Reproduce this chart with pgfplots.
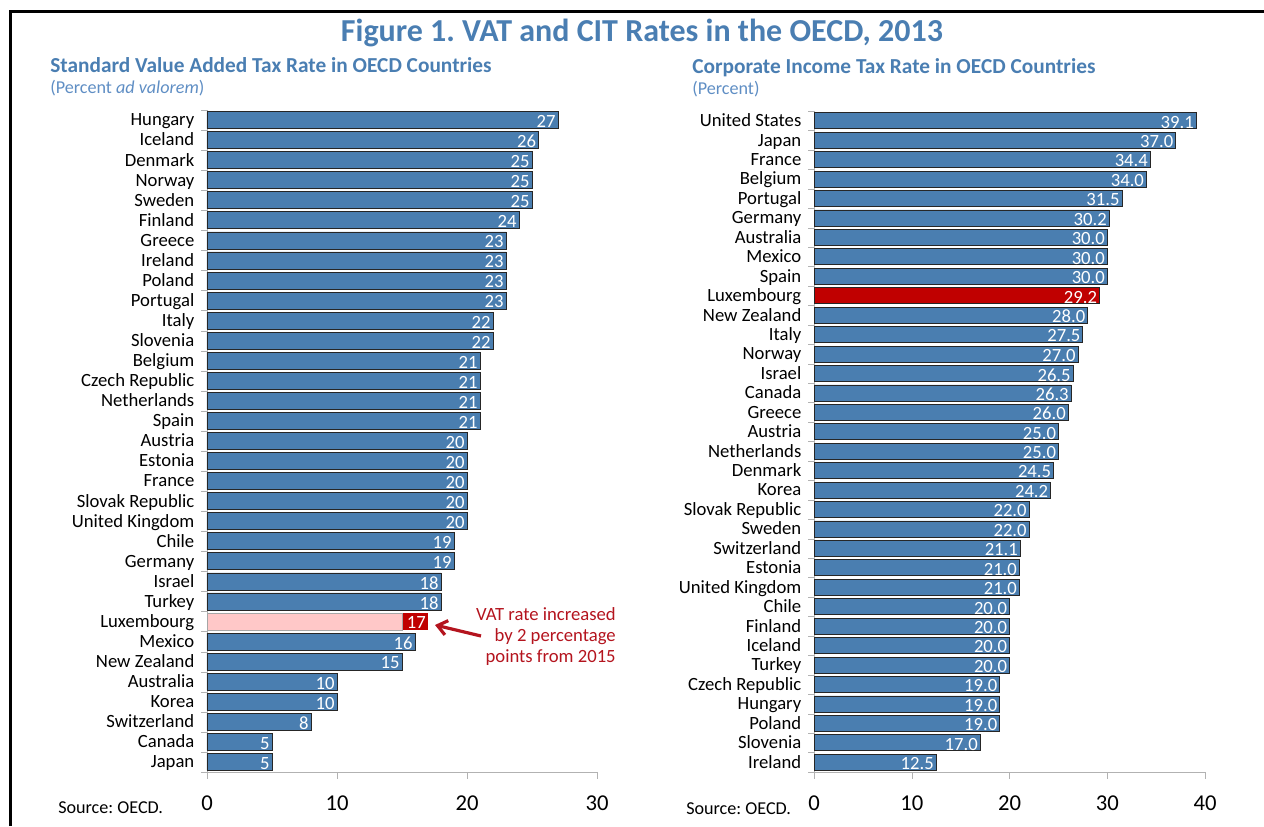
\documentclass[border=0pt]{standalone}
\usepackage{fontspec}
\setmainfont{Carlito}
\usepackage{pgfplots}
\usepackage{pgfplotstable}
\pgfplotsset{compat=1.18}
\usetikzlibrary{arrows.meta}
\definecolor{barblue}{RGB}{74,126,176}
\definecolor{titleblue}{RGB}{74,126,178}
\definecolor{subblue}{RGB}{95,142,196}
\definecolor{lxred}{RGB}{192,0,0}
\definecolor{lxpink}{RGB}{255,200,200}
\definecolor{annred}{RGB}{180,20,30}
\frenchspacing

\pgfplotstableread{
x y lab
27 0 27
25.5 1 26
25 2 25
25 3 25
25 4 25
24 5 24
23 6 23
23 7 23
23 8 23
23 9 23
22 10 22
22 11 22
21 12 21
21 13 21
21 14 21
21 15 21
20 16 20
20 17 20
20 18 20
20 19 20
20 20 20
19 21 19
19 22 19
18 23 18
18 24 18
16 26 16
15 27 15
10 28 10
10 29 10
8 30 8
5 31 5
5 32 5
}\vatdata

\pgfplotstableread{
x y lab
39.1 0 39.1
37.0 1 37.0
34.4 2 34.4
34.0 3 34.0
31.5 4 31.5
30.2 5 30.2
30.0 6 30.0
30.0 7 30.0
30.0 8 30.0
28.0 10 28.0
27.5 11 27.5
27.0 12 27.0
26.5 13 26.5
26.3 14 26.3
26.0 15 26.0
25.0 16 25.0
25.0 17 25.0
24.5 18 24.5
24.2 19 24.2
22.0 20 22.0
22.0 21 22.0
21.1 22 21.1
21.0 23 21.0
21.0 24 21.0
20.0 25 20.0
20.0 26 20.0
20.0 27 20.0
20.0 28 20.0
19.0 29 19.0
19.0 30 19.0
19.0 31 19.0
17.0 32 17.0
12.5 33 12.5
}\citdata

\pgfplotsset{
  hbar/.style={
    scale only axis,
    y dir=reverse,
    axis x line*=bottom,
    axis y line*=left,
    axis line style={draw=gray!60,-},
    tick align=outside,
    major tick length=5pt,
    minor tick length=4.5pt,
    every major y tick/.append style={draw=none},
    every minor y tick/.append style={draw=gray!60},
    every major x tick/.append style={draw=gray!60},
    /pgf/number format/assume math mode=true,
    xticklabel style={font=\fontsize{17}{17}\selectfont, yshift=-9.5pt},
    yticklabel style={font=\fontsize{14}{14}\selectfont, xshift=-1pt,
      text height=11.6pt, text depth=2.8pt},
    clip=false,
  },
  barlab/.style={
    nodes near coords,
    point meta=explicit symbolic,
    every node near coord/.style={anchor=east, text=white, inner sep=1.5pt,
      font=\fontsize{14}{14}\selectfont, yshift=-1pt},
  },
}

\begin{document}
\begin{tikzpicture}
\begin{scope}[x=0.75pt,y=0.75pt]
\path[use as bounding box] (0,0) rectangle (1264,826);
\draw[line width=2.25pt] (10,0) -- (10,814) -- (1264,814);

\node[anchor=base, text=titleblue, font=\fontsize{24}{24}\selectfont\bfseries] at (642,784) {Figure 1. VAT and CIT Rates in the OECD, 2013};

\node[anchor=base west, inner sep=0pt, text=titleblue, font=\fontsize{16}{16}\selectfont\bfseries] at (50,753) {Standard Value Added Tax Rate in OECD Countries};
\node[anchor=base west, inner sep=0pt, text=subblue, font=\fontsize{13.6}{13.6}\selectfont] at (50,732) {(Percent \textit{ad valorem})};
\node[anchor=base west, inner sep=0pt, text=titleblue, font=\fontsize{16}{16}\selectfont\bfseries] at (692,752) {Corporate Income Tax Rate in OECD Countries};
\node[anchor=base west, inner sep=0pt, text=subblue, font=\fontsize{13.6}{13.6}\selectfont] at (692,731) {(Percent)};

\node[anchor=base west, inner sep=0pt, font=\fontsize{13.6}{13.6}\selectfont] at (58,13) {Source: OECD.};
\node[anchor=base west, inner sep=0pt, font=\fontsize{13.6}{13.6}\selectfont] at (686,12) {Source: OECD.};

\draw[annred, line width=2.4pt, -{Straight Barb[length=7pt,width=11pt]}] (481,190) -- (435,201);
\node[anchor=base east, inner sep=0pt, text=annred, font=\fontsize{14}{14}\selectfont] at (616,206) {VAT rate increased};
\node[anchor=base east, inner sep=0pt, text=annred, font=\fontsize{14}{14}\selectfont] at (616,185) {by 2 percentage};
\node[anchor=base east, inner sep=0pt, text=annred, font=\fontsize{14}{14}\selectfont] at (616,164) {points from 2015};
\end{scope}

\begin{axis}[hbar,
  at={(155.25pt,40.5pt)}, anchor=south west,
  width=292.5pt, height=496.5pt,
  xmin=0, xmax=30, ymin=-0.5, ymax=32.5,
  xtick={0,10,20,30},
  ytick={0,...,32},
  minor ytick={-0.5,0.5,...,32.5},
  yticklabels={Hungary,Iceland,Denmark,Norway,Sweden,Finland,Greece,Ireland,Poland,Portugal,Italy,Slovenia,Belgium,Czech Republic,Netherlands,Spain,Austria,Estonia,France,Slovak Republic,United Kingdom,Chile,Germany,Israel,Turkey,Luxembourg,Mexico,New Zealand,Australia,Korea,Switzerland,Canada,Japan},
]
\addplot[xbar, bar shift=0pt, bar width=12.75pt, fill=barblue, draw=black!85, line width=0.6pt, barlab] table[x=x, y=y, meta=lab] {\vatdata};
\addplot[xbar, bar shift=0pt, bar width=12.75pt, fill=lxred, draw=none, barlab] table[x=x, y=y, meta=lab] {
x y lab
17 25 17
};
\addplot[xbar, bar shift=0pt, bar width=12.75pt, fill=lxpink, draw=gray!70, line width=0.6pt] coordinates {(15,25)};
\end{axis}

\begin{axis}[hbar,
  at={(610.5pt,40.5pt)}, anchor=south west,
  width=293.25pt, height=495.75pt,
  xmin=0, xmax=40, ymin=-0.5, ymax=33.5,
  xtick={0,10,20,30,40},
  ytick={0,...,33},
  minor ytick={-0.5,0.5,...,33.5},
  yticklabels={United States,Japan,France,Belgium,Portugal,Germany,Australia,Mexico,Spain,Luxembourg,New Zealand,Italy,Norway,Israel,Canada,Greece,Austria,Netherlands,Denmark,Korea,Slovak Republic,Sweden,Switzerland,Estonia,United Kingdom,Chile,Finland,Iceland,Turkey,Czech Republic,Hungary,Poland,Slovenia,Ireland},
]
\addplot[xbar, bar shift=0pt, bar width=12pt, fill=barblue, draw=black!85, line width=0.6pt, barlab] table[x=x, y=y, meta=lab] {\citdata};
\addplot[xbar, bar shift=0pt, bar width=12pt, fill=lxred, draw=black!85, line width=0.6pt, barlab] table[x=x, y=y, meta=lab] {
x y lab
29.2 9 29.2
};
\end{axis}
\end{tikzpicture}
\end{document}
